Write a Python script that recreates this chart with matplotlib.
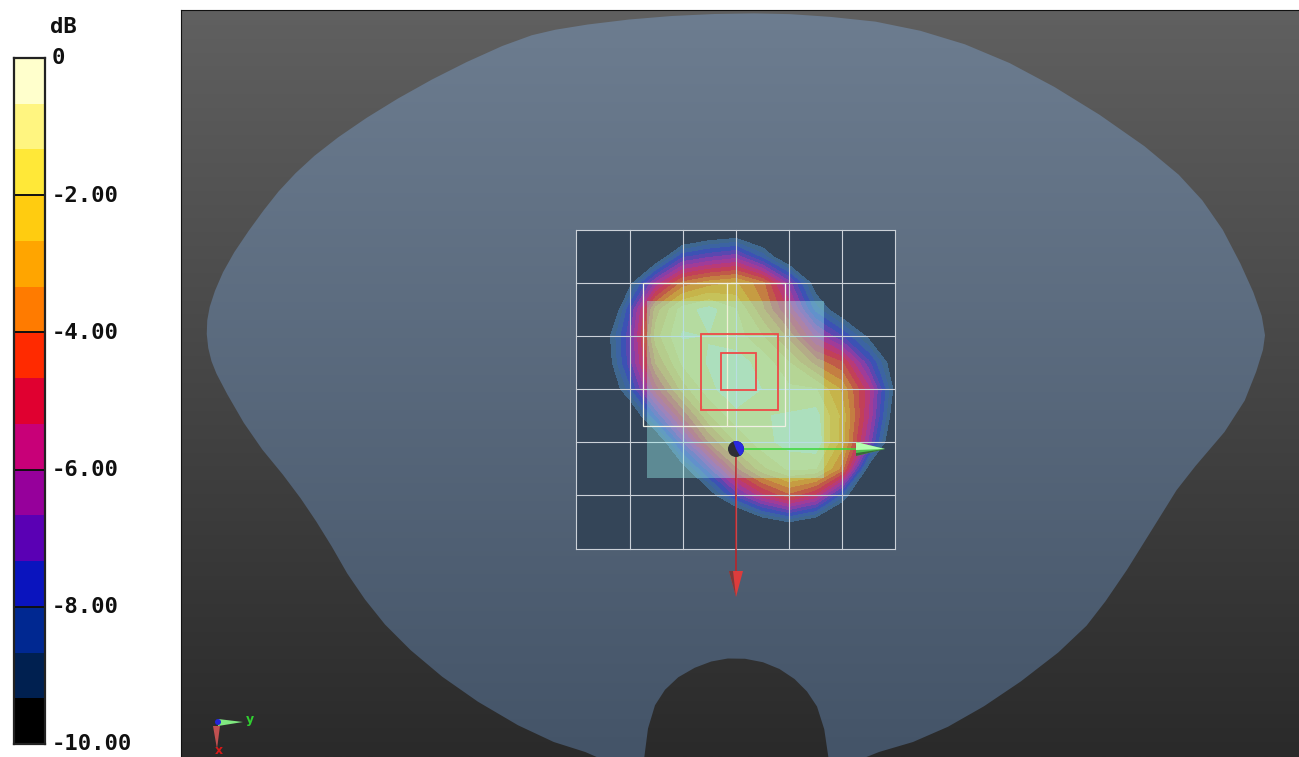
import numpy as np
import matplotlib
matplotlib.use("Agg")
import matplotlib.pyplot as plt
from matplotlib.colors import ListedColormap, BoundaryNorm, LinearSegmentedColormap
from matplotlib.patches import Polygon, Rectangle, Circle, Wedge
from matplotlib.transforms import ScaledTranslation

# colour scale
band_colors = ["#000000", "#002050", "#002891", "#0A14BE", "#5A00B4", "#96009B", "#C80078", "#E00030",
               "#FF2A00", "#FF7B00", "#FFA500", "#FFCC10", "#FFE838", "#FFF580", "#FFFFCC"]
band_edges = [-10 + i * 10 / 15 for i in range(16)]
scale_ticks = [0, -2, -4, -6, -8, -10]
scale_labels = ["0", "-2.00", "-4.00", "-6.00", "-8.00", "-10.00"]

# colours the bands take on the surface
surface_colors = ["#3F6890", "#3C64A2", "#3C52B4", "#5A48B0", "#8440A8", "#A03C98", "#B83A78", "#C24058",
                  "#C05A48", "#C47E42", "#C69C42", "#C6B44A", "#C6C25A", "#C6CC6C", "#B6D49C"]

# grid lines of the scan
grid_x = [576, 629.5, 682.5, 736, 789, 842, 895]
grid_y = [230, 283, 336, 389, 442, 495, 549]

# field, dB, at half grid steps
field_x = [576, 602.6, 629.5, 656, 682.5, 709, 736, 762.5, 789, 815.5, 842, 868.5, 895]
field_y = [230, 256.5, 283, 309.5, 336, 362.5, 389, 415.5, 442, 468.5, 495, 522, 549]
field_db = [
    [-20, -20, -19, -16, -12.5, -11.7, -11.4, -12, -15, -19, -20, -20, -20],
    [-20, -17, -13.4, -11.3, -8.2, -7.5, -7, -9, -11.5, -14.5, -18, -20, -20],
    [-19, -15, -10.5, -6.5, -3.8, -3.0, -2.6, -3.8, -7, -10.7, -15, -18, -20],
    [-17, -13, -8.2, -3.0, -1.0, -0.4, -1.3, -3.2, -5.5, -9, -11, -14, -18],
    [-15, -11, -7.6, -2.3, -0.6, -0.7, -1.0, -2.0, -3.6, -6.2, -8, -10.3, -14.5],
    [-15, -11.3, -7.7, -3.3, -1.2, -0.6, -0.4, -0.9, -2.0, -3.6, -4.6, -7.8, -11],
    [-16, -12, -9, -5, -2.4, -0.9, -0.1, -0.7, -1.2, -1.3, -2.8, -5.8, -10.4],
    [-20, -15.5, -11.6, -8, -4.6, -2.1, -0.9, -0.7, -0.6, -0.4, -2.2, -6, -11],
    [-20, -19, -15.5, -11.5, -7.5, -4, -2.0, -0.9, -0.4, -0.2, -2.3, -6.8, -12],
    [-20, -20, -19, -15, -10.6, -7.6, -4.2, -2.2, -1.2, -1.3, -3.6, -10.6, -16],
    [-20, -20, -20, -18, -14.5, -10.8, -7.8, -5.6, -4.2, -5.5, -9, -13.5, -19],
    [-20, -20, -20, -20, -19, -16, -13, -11, -10.05, -11, -13, -17, -20],
    [-20, -20, -20, -20, -20, -20, -18, -17, -15.5, -16, -18, -20, -20],
]

# outlines in screen units of the main view
phantom_x = [736, 808, 898, 987, 1077, 1167, 1214, 1249, 1266, 1262, 1239, 1181, 1163, 1115, 1077, 1002, 930, 862, 835,
             831, 822, 802, 772, 736, 703, 670, 650, 642,
             625, 601, 538, 458, 395, 355, 324, 293, 252, 219, 209, 206, 211, 227, 256, 286, 324, 381, 449, 520, 567, 650]
phantom_y = [13, 14.5, 24, 51, 99, 162, 213, 280, 328, 357, 415, 483, 512, 589, 638, 696, 737, 757, 775,
             775, 714, 684, 664, 657, 663, 682, 713, 775,
             775, 757, 737, 690, 637, 587, 533, 487, 437, 380, 355, 327, 300, 263, 220, 182, 147, 108, 70, 38, 27, 17]
cube_box = [647, 301, 177, 177]
white_box = [643, 283, 142, 143]
white_split = 727
red_boxes = [[701, 334, 77, 76], [721, 353, 35, 37]]
origin = [736, 449]
y_axis_end = 885
x_axis_end = 597


def corner_cut(points):
    # one pass of corner cutting so the outline is less faceted
    nxt = np.roll(points, -1, axis=0)
    return np.column_stack([0.75 * points + 0.25 * nxt, 0.25 * points + 0.75 * nxt]).reshape(-1, 2)


fig = plt.figure(figsize=(12.99, 7.57), dpi=100, facecolor="white")
W, H = 1299, 757

# main view
ax = fig.add_axes([181 / W, 0, (W - 181) / W, (H - 10) / H])
bg_cmap = LinearSegmentedColormap.from_list("bg", ["#606060", "#2A2A2A"])
ax.imshow(np.linspace(0, 1, 256)[:, None], cmap=bg_cmap, extent=[181, 1299, 757, 10], aspect="auto", zorder=0)

surf_cmap = LinearSegmentedColormap.from_list("surf", ["#6D7D90", "#445468"])
surf = ax.imshow(np.linspace(0, 1, 256)[:, None], cmap=surf_cmap, extent=[181, 1299, 757, 10], aspect="auto", zorder=1)
outline_pts = corner_cut(np.column_stack([phantom_x, phantom_y]).astype(float))
outline = Polygon(outline_pts, closed=True, transform=ax.transData, facecolor="none", edgecolor="none")
ax.add_patch(outline)
surf.set_clip_path(outline)

# scan area
ax.add_patch(Rectangle((grid_x[0], grid_y[0]), grid_x[-1] - grid_x[0], grid_y[-1] - grid_y[0],
                       facecolor="#344558", edgecolor="none", zorder=2))
ax.contourf(field_x, field_y, field_db, levels=band_edges, colors=surface_colors, zorder=3)

for gx in grid_x:
    ax.plot([gx, gx], [grid_y[0], grid_y[-1]], color="#CBD1D8", lw=0.8, zorder=4)
for gy in grid_y:
    ax.plot([grid_x[0], grid_x[-1]], [gy, gy], color="#CBD1D8", lw=0.8, zorder=4)

ax.add_patch(Rectangle(cube_box[:2], cube_box[2], cube_box[3], facecolor="#9DF2F0", alpha=0.4, edgecolor="none", zorder=5))
ax.add_patch(Rectangle(white_box[:2], white_box[2], white_box[3], facecolor="none", edgecolor="#F0F0E4", lw=0.9, zorder=6))
ax.plot([white_split, white_split], [white_box[1], white_box[1] + white_box[3]], color="#F0F0D8", lw=0.9, zorder=6)
for box in red_boxes:
    ax.add_patch(Rectangle(box[:2], box[2], box[3], facecolor="none", edgecolor="#EE4A48", lw=1.3, zorder=6))

# probe axes
ax.plot([origin[0], 858], [origin[1], origin[1]], color="#38D838", lw=1.1, zorder=7)
ax.plot([origin[0], origin[0]], [origin[1], 575], color="#C02024", lw=1.1, zorder=7)
ax.add_patch(Polygon([(856, 442), (856, 456), (y_axis_end, origin[1])], facecolor="#50C050", edgecolor="none", zorder=8))
ax.add_patch(Polygon([(856, 442), (856, 450), (y_axis_end, origin[1])], facecolor="#B4FFB0", edgecolor="none", zorder=8))
ax.add_patch(Polygon([(856, 453), (856, 456), (y_axis_end, origin[1])], facecolor="#3A6A3A", edgecolor="none", zorder=8))
ax.add_patch(Polygon([(729, 571), (743, 571), (origin[0], x_axis_end)], facecolor="#DC3C3C", edgecolor="none", zorder=8))
ax.add_patch(Polygon([(729, 571), (733, 571), (origin[0], x_axis_end)], facecolor="#7A3A3A", edgecolor="none", zorder=8))
ax.add_patch(Circle(origin, 8, facecolor="#2E2E36", edgecolor="none", zorder=9))
ax.add_patch(Wedge(origin, 8, -110, 60, facecolor="#2A2AE0", edgecolor="none", zorder=10))

# small orientation triad
ax.add_patch(Polygon([(218, 719), (218, 726), (243, 722)], facecolor="#80E880", edgecolor="none", zorder=8))
ax.add_patch(Polygon([(213, 726), (220, 726), (217, 749)], facecolor="#C05050", edgecolor="none", zorder=8))
ax.add_patch(Circle((218, 722), 3, facecolor="#2424D8", edgecolor="none", zorder=9))
ax.text(250, 720, "y", color="#30D030", fontsize=9, fontweight="bold", ha="center", va="center", zorder=9)
ax.text(219, 751, "x", color="#D81818", fontsize=9, fontweight="bold", ha="center", va="center", zorder=9)

ax.set_xlim(181, 1299)
ax.set_ylim(757, 10)
ax.set_xticks([])
ax.set_yticks([])
for side in ["right", "bottom"]:
    ax.spines[side].set_visible(False)
for side in ["left", "top"]:
    ax.spines[side].set_color("#111111")

# colour scale
cax = fig.add_axes([14 / W, (H - 744) / H, 31 / W, 686 / H])
cmap = ListedColormap(band_colors)
norm = BoundaryNorm(band_edges, cmap.N)
cax.pcolormesh([0, 1], band_edges, np.array(band_edges[:-1])[:, None] + 0.1, cmap=cmap, norm=norm)
cax.hlines(scale_ticks[1:5], 0, 1, color="#101010", lw=1.4)
cax.set_xticks([])
cax.yaxis.tick_right()
cax.set_yticks(scale_ticks)
cax.set_yticklabels(scale_labels, family="DejaVu Sans Mono", fontweight="bold", fontsize=16)
cax.tick_params(axis="y", length=0, pad=5, labelcolor="#101010")
for label in cax.get_yticklabels():
    label.set_transform(label.get_transform() + ScaledTranslation(0, 1.5 / 100, fig.dpi_scale_trans))
for spine in cax.spines.values():
    spine.set_color("#222222")
    spine.set_linewidth(1.6)
fig.text(63 / W, 1 - 27 / H, "dB", family="DejaVu Sans Mono", fontweight="bold", fontsize=16, ha="center", va="center", color="#101010")

fig.savefig("out.png", dpi=100)
